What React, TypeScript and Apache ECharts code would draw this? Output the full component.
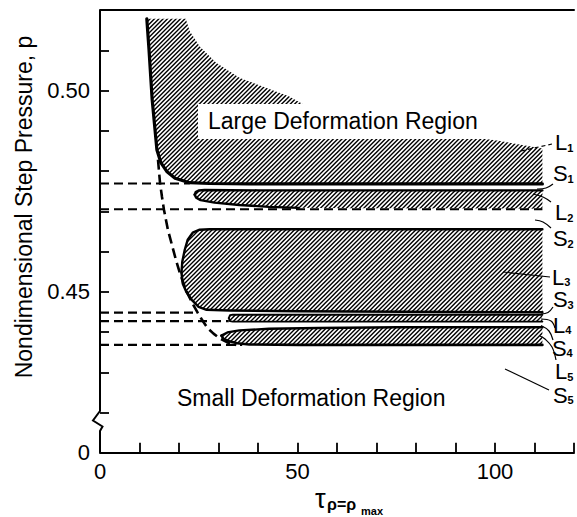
import React, { useEffect, useRef } from "react";
import * as echarts from "echarts";

const FONT = '"Liberation Sans", Arial, Helvetica, sans-serif';

// Axis extents: tau along x, nondimensional step pressure p along y
// (the p axis is broken below 0.42; its bottom end is labelled 0)
const tauRange = [0, 120];
const pRange = [0.41, 0.52];
const tauLabelled = [0, 50, 100];
const pLabelled: [number, string][] = [
  [0.41, "0"],
  [0.45, "0.45"],
  [0.5, "0.50"],
];

// Hatched (large deformation) regions, each bounded by an upper and a lower edge (tau, p)
const l1Upper = [
  [11.85, 0.5178], [21.7, 0.5178], [22.7, 0.5148], [25.2, 0.511], [29.4, 0.5069],
  [35.3, 0.5032], [42.0, 0.5007], [47.8, 0.4986], [51.1, 0.4968], [60.4, 0.494],
  [70.4, 0.4918], [80.5, 0.49], [90.5, 0.4888], [100.5, 0.4876], [112, 0.4856],
];
const l1Lower = [
  [11.85, 0.5178], [12.4, 0.5102], [13.2, 0.4978], [14.4, 0.4853], [15.4, 0.4821],
  [16.9, 0.4799], [19.0, 0.4782], [22.7, 0.4771], [27.7, 0.4769], [37.8, 0.4768],
  [112, 0.4768],
];
const l2Upper = [
  [23.97, 0.47413], [24.22, 0.47475], [24.97, 0.47517], [26.48, 0.4753], [40, 0.4752], [112, 0.4752],
];
const l2Lower = [
  [23.97, 0.47413], [24.35, 0.47338], [25.48, 0.47276], [28.99, 0.47214], [35.27, 0.47157],
  [42.8, 0.47109], [50.33, 0.47085], [62.88, 0.47072], [112, 0.47065],
];
const l3Upper = [
  [20.63, 0.45473], [20.83, 0.45746], [21.46, 0.46045], [22.21, 0.46294], [23.47, 0.46468],
  [25.23, 0.46542], [27.74, 0.46555], [112, 0.46555],
];
const l3Lower = [
  [20.63, 0.45473], [20.96, 0.45199], [21.84, 0.45], [23.22, 0.44801], [24.97, 0.44627],
  [26.98, 0.44552], [32.75, 0.44535], [50.33, 0.44515], [112, 0.4449],
];
const l4Upper = [[32.6, 0.44345], [32.9, 0.4442], [33.6, 0.4443], [112, 0.4443]];
const l4Lower = [[32.6, 0.44345], [32.9, 0.4427], [33.6, 0.4426], [112, 0.4426]];
const l5Upper = [
  [30.75, 0.4391], [32.25, 0.4399], [35.27, 0.4404], [42.8, 0.4408], [55.35, 0.441],
  [75.4, 0.4412], [112, 0.4412],
];
const l5Lower = [
  [30.75, 0.4391], [31.25, 0.4383], [32.75, 0.4377], [34.76, 0.4372], [37.78, 0.4369],
  [50.3, 0.4368], [112, 0.4368],
];

// Dashed boundary between small and large deformation behaviour
const transitionCurve = [
  [14.68, 0.4828], [15.19, 0.4771], [15.69, 0.4736], [16.19, 0.4704], [17.19, 0.4654],
  [18.2, 0.4617], [19.2, 0.458], [20.21, 0.4547], [21.71, 0.4505], [23.47, 0.447],
  [24.72, 0.4448], [25.98, 0.4428], [27.23, 0.441], [28.74, 0.4396], [30.5, 0.4383],
  [32.5, 0.4373], [34.51, 0.4368],
];

// Dashed asymptotic levels and the tau where each one stops
const asymptoteP = [0.4769, 0.4705, 0.4448, 0.4427, 0.4368];
const asymptoteEnd = [22.7, 112, 24.7, 32.6, 36];

// Region tags on the right-hand side
const regionTags = ["L1", "S1", "L2", "S2", "L3", "S3", "L4", "S4", "L5", "S5"];

const regions = [
  { upper: l1Upper, lower: l1Lower },
  { upper: l2Upper, lower: l2Lower },
  { upper: l3Upper, lower: l3Lower },
  { upper: l4Upper, lower: l4Lower },
  { upper: l5Upper, lower: l5Lower },
];

// 45-degree hatch tile
function hatchTile(): string {
  const size = 13;
  let d = "";
  for (let k = 0; k <= 6; k++) {
    const c = (k * size) / 3;
    d += `M${(c + 3).toFixed(3)},-3 L-3,${(c + 3).toFixed(3)} `;
  }
  const svg = `<svg xmlns="http://www.w3.org/2000/svg" width="${size}" height="${size}"><rect width="${size}" height="${size}" fill="#fff"/><path d="${d}" stroke="#000" stroke-width="1.4" fill="none"/></svg>`;
  return "data:image/svg+xml;charset=utf-8," + encodeURIComponent(svg);
}

const GRID_LEFT = 100;
const GRID_TOP = 10;
const GRID_H = 442.8;

function buildOption() {
  const hatch = { image: hatchTile(), repeat: "repeat", imageWidth: 13, imageHeight: 13 };

  const outline = (data: number[][], width: number) => ({
    type: "line",
    data,
    symbol: "none",
    silent: true,
    z: 4,
    lineStyle: { color: "#000", width, cap: "round", join: "round" },
  });

  const dashed = (data: number[][], width: number, dash: number[]) => ({
    type: "line",
    data,
    symbol: "none",
    silent: true,
    z: 5,
    lineStyle: { color: "#000", width, type: dash, cap: "butt" },
  });

  const series: any[] = [
    {
      type: "custom",
      z: 2,
      clip: true,
      silent: true,
      data: regions.map((r) => r.upper[0]),
      renderItem: (params: any, api: any) => {
        const r = regions[params.dataIndex];
        const ring = r.upper.concat(r.lower.slice().reverse());
        return {
          type: "polygon",
          shape: { points: ring.map((pt) => api.coord(pt)) },
          style: { fill: hatch, stroke: null },
        };
      },
    },
    outline(l1Lower, 3.2),
    outline(l2Upper, 2.4),
    outline(l2Lower.filter(([t]) => t <= 51), 2.4),
    outline(l3Upper, 2.4),
    outline(l3Lower, 2.4),
    outline(l4Upper, 1.8),
    outline(l4Lower, 1.8),
    outline(l5Upper, 2.4),
    outline(l5Lower, 2.6),
    dashed(transitionCurve, 2.6, [10, 5]),
  ];
  asymptoteP.forEach((p, i) => {
    series.push(dashed([[tauRange[0], p], [asymptoteEnd[i], p]], 2.2, [9, 5]));
  });

  // Right-hand tags and their leader lines
  const tagPos = [
    [555, 142.5], [553, 173.5], [555, 212.5], [553, 238.5], [552, 277],
    [553, 299.5], [553, 325], [552, 348], [555, 371.5], [553, 395],
  ];
  const leaders = [
    [[521, 151], [552, 144]],
    [[553, 184], [546, 188], [537, 189]],
    [[551, 202], [543, 197], [533, 194]],
    [[551, 228], [543, 222], [535, 220]],
    [[503, 272], [550, 277]],
    [[553, 307], [548, 312.5], [541, 314]],
    [[555, 328], [551, 321], [541, 319]],
    [[553, 340], [549, 331], [541, 325.5]],
    [[556, 360], [552, 347], [545, 339], [540, 336]],
    [[549, 390], [505, 369]],
  ];

  const ax = GRID_LEFT;
  const axBottom = GRID_TOP + GRID_H;
  const graphic: any[] = [
    // p axis line, drawn in two pieces with a zigzag break between them
    {
      type: "polyline", z: 80,
      shape: { points: [[ax, GRID_TOP], [ax, 411], [ax - 7, 420.5], [ax + 2.5, 426.5], [ax, 431], [ax, axBottom]] },
      style: { stroke: "#000", lineWidth: 2, fill: null },
    },
    // white box behind the upper region caption
    { type: "rect", z: 50, shape: { x: 198, y: 104, width: 287, height: 35 }, style: { fill: "#fff" } },
    {
      type: "text", z: 51, x: 208, y: 121,
      style: { text: "Large Deformation Region", font: `23px ${FONT}`, fill: "#000", verticalAlign: "middle", align: "left" },
    },
    {
      type: "text", z: 51, x: 177, y: 397.5,
      style: { text: "Small Deformation Region", font: `23px ${FONT}`, fill: "#000", verticalAlign: "middle", align: "left" },
    },
    // axis titles
    {
      type: "text", z: 51, x: 24, y: 207, rotation: Math.PI / 2,
      style: { text: "Nondimensional Step Pressure, p", font: `23px ${FONT}`, fill: "#000", align: "center", verticalAlign: "middle" },
    },
    {
      type: "text", z: 51, x: 315, y: 499,
      style: { text: "τ", font: `27px ${FONT}`, fill: "#000", align: "left", verticalAlign: "middle" },
    },
    {
      type: "text", z: 51, x: 327, y: 504,
      style: { text: "ρ=ρ", font: `bold 16px ${FONT}`, fill: "#000", align: "left", verticalAlign: "middle" },
    },
    {
      type: "text", z: 51, x: 361, y: 511,
      style: { text: "max", font: `bold 11px ${FONT}`, fill: "#000", align: "left", verticalAlign: "middle" },
    },
  ];

  regionTags.forEach((tag, i) => {
    const [x, y] = tagPos[i];
    const letter = tag[0];
    const sub = tag.slice(1);
    graphic.push({
      type: "text", z: 51, x, y,
      style: { text: letter, font: `22px ${FONT}`, fill: "#000", align: "left", verticalAlign: "middle" },
    });
    graphic.push({
      type: "text", z: 51, x: x + (letter === "L" ? 12.2 : 14.6), y: y + 5,
      style: { text: sub, font: `bold 11px ${FONT}`, fill: "#000", align: "left", verticalAlign: "middle" },
    });
    graphic.push({
      type: "polyline", z: 51,
      shape: { points: leaders[i], smooth: leaders[i].length > 2 ? 0.4 : 0 },
      style: { stroke: "#000", lineWidth: 1.2, fill: null, lineDash: i === 0 ? [4, 3] : null },
    });
  });

  return {
    animation: false,
    backgroundColor: "#fff",
    grid: { left: GRID_LEFT, top: GRID_TOP, width: 478, height: GRID_H },
    xAxis: [
      {
        type: "value",
        min: tauRange[0],
        max: tauRange[1],
        interval: 10,
        axisLine: { show: true, onZero: false, lineStyle: { color: "#000", width: 2 } },
        axisTick: { show: true, inside: true, length: 10, lineStyle: { color: "#000", width: 1.8 } },
        axisLabel: {
          color: "#000",
          fontSize: 22,
          fontFamily: FONT,
          margin: 8,
          formatter: (v: number) => (tauLabelled.includes(Math.round(v)) ? String(Math.round(v)) : ""),
        },
        splitLine: { show: false },
      },
      {
        type: "value",
        position: "top",
        min: tauRange[0],
        max: tauRange[1],
        axisLine: { show: true, onZero: false, lineStyle: { color: "#000", width: 2 } },
        axisTick: { show: false },
        axisLabel: { show: false },
        splitLine: { show: false },
      },
    ],
    yAxis: {
      type: "value",
      min: pRange[0],
      max: pRange[1],
      interval: 0.01,
      axisLine: { show: false },
      axisTick: { show: true, inside: true, length: 9, lineStyle: { color: "#000", width: 1.8 } },
      axisLabel: {
        color: "#000",
        fontSize: 22,
        fontFamily: FONT,
        margin: 10,
        formatter: (v: number) => {
          const hit = pLabelled.find(([val]) => Math.abs(val - v) < 1e-6);
          return hit ? hit[1] : "";
        },
      },
      splitLine: { show: false },
    },
    series,
    graphic,
  };
}

export default function App() {
  const ref = useRef<HTMLDivElement>(null);
  useEffect(() => {
    const chart = echarts.init(ref.current!, null, { renderer: "svg" });
    chart.setOption(buildOption() as any);
    return () => chart.dispose();
  }, []);
  return (
    <div
      ref={ref}
      style={{ position: "absolute", left: 0, top: 0, width: 577, height: 517, background: "#fff" }}
    />
  );
}
